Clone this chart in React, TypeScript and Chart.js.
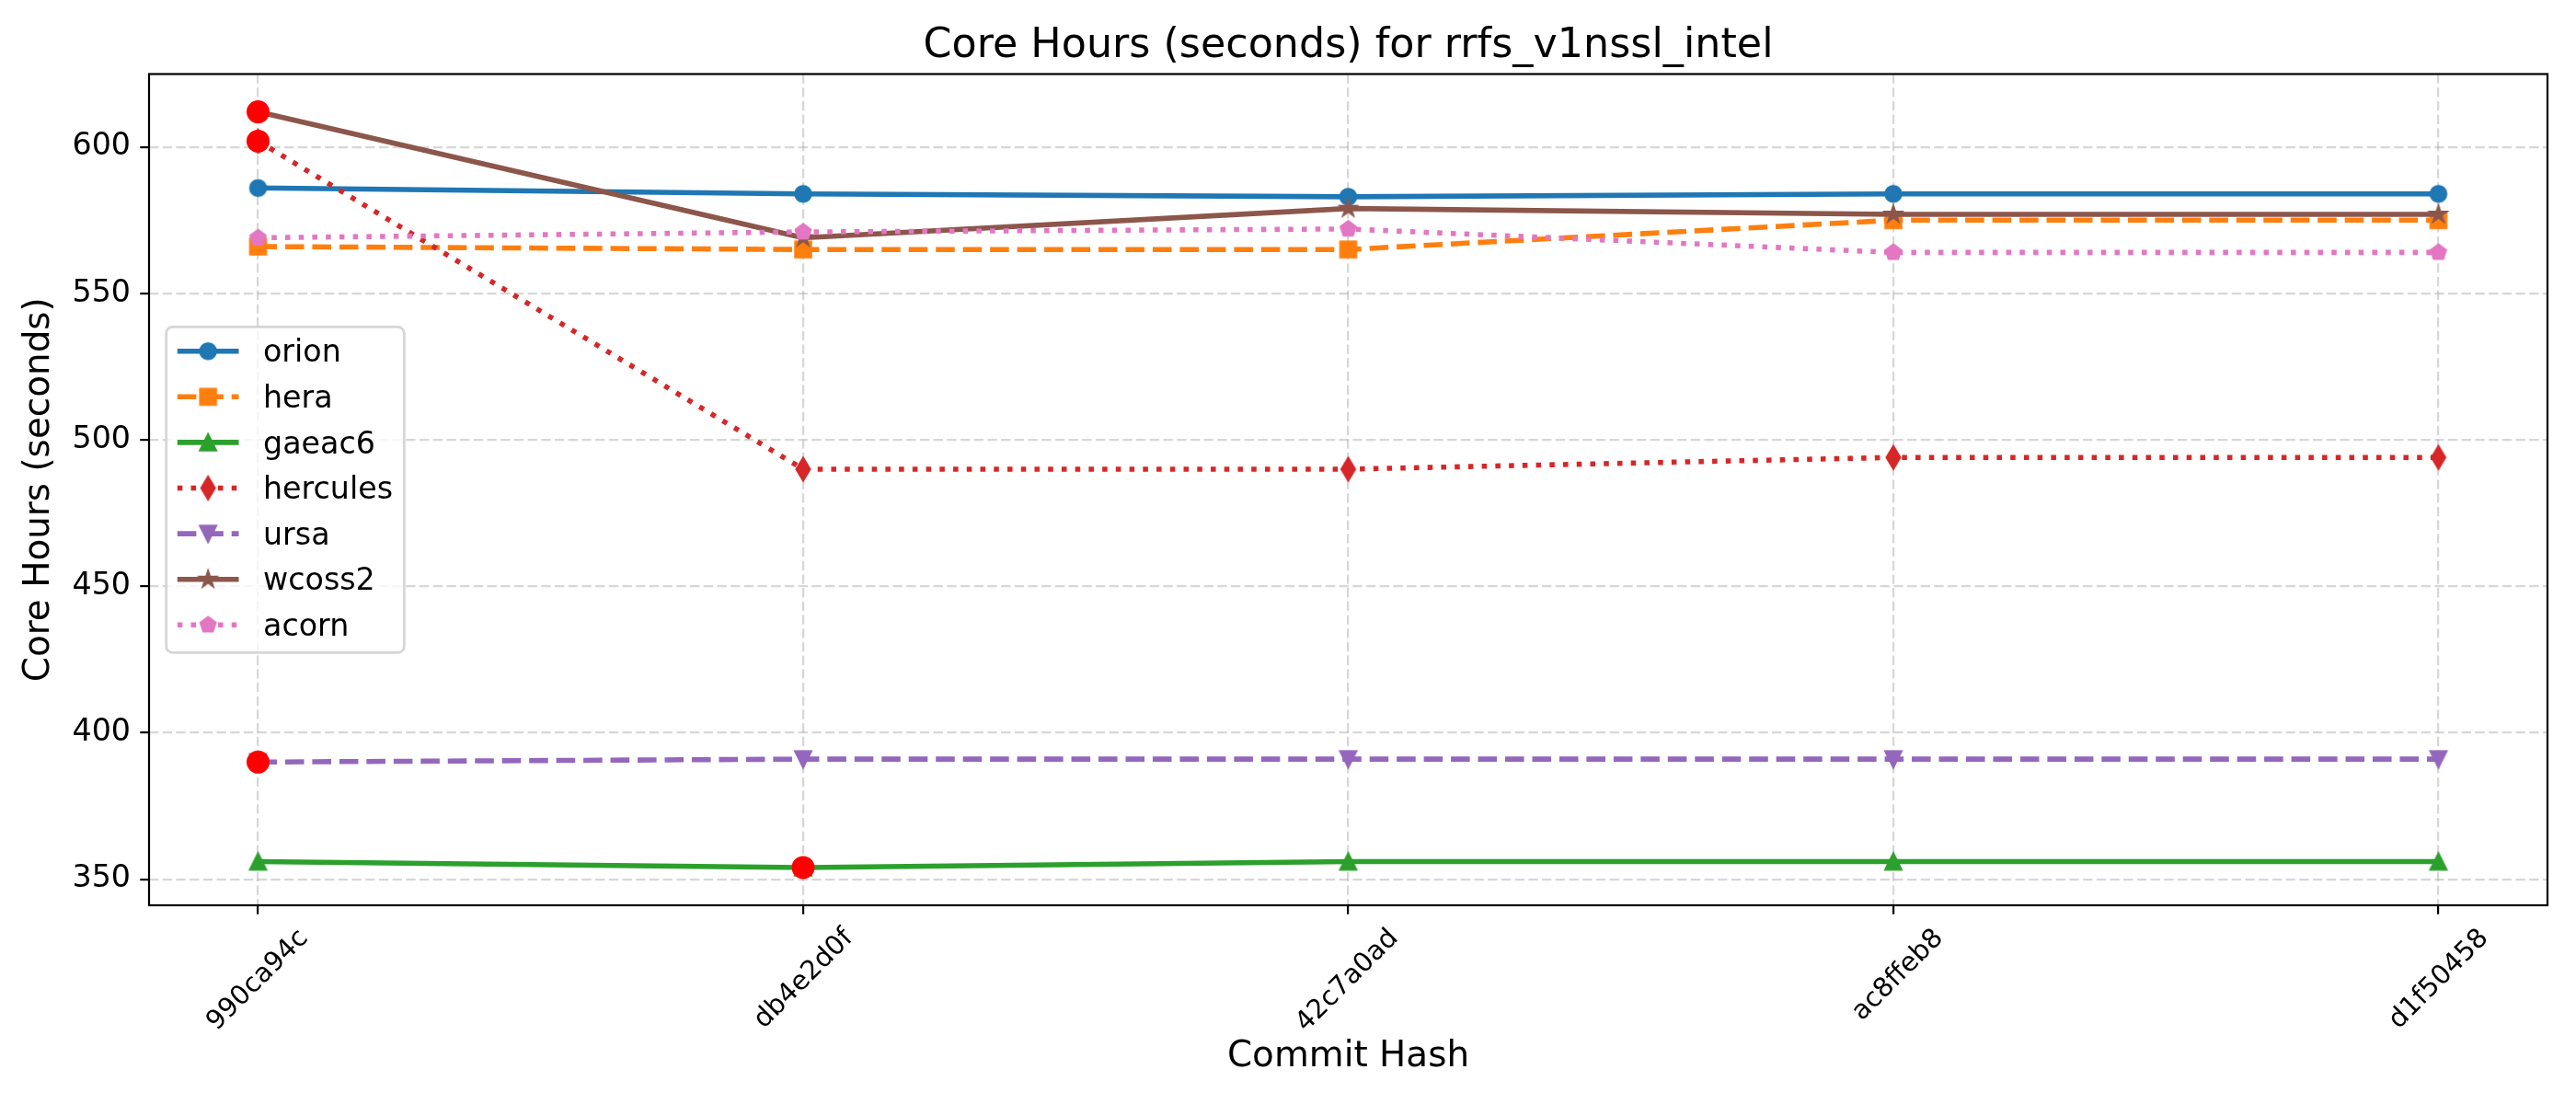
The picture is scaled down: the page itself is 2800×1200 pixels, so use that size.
import React, { useEffect, useRef } from 'react';
import { Chart, registerables } from 'chart.js';

Chart.register(...registerables);

// ---------------- data ----------------
const commits = ['990ca94c', 'db4e2d0f', '42c7a0ad', 'ac8ffeb8', 'd1f50458'];
const orion = [586, 584, 583, 584, 584];
const hera = [566, 565, 565, 575, 575];
const gaeac6 = [356, 354, 356, 356, 356];
const hercules = [602, 490, 490, 494, 494];
const ursa = [390, 391, 391, 391, 391];
const wcoss2 = [612, 569, 579, 577, 577];
const acorn = [569, 571, 572, 564, 564];
const yTicks = [350, 400, 450, 500, 550, 600];
// points flagged with a red dot: [series name, commit index]
const flagged: [string, number][] = [
  ['wcoss2', 0],
  ['hercules', 0],
  ['ursa', 0],
  ['gaeac6', 1],
];

const TITLE = 'Core Hours (seconds) for rrfs_v1nssl_intel';
const X_LABEL = 'Commit Hash';
const Y_LABEL = 'Core Hours (seconds)';

// ---------------- styles ----------------
const FONT = '"DejaVu Sans", sans-serif';
const LW = 5.56; // 2pt at 200dpi
const MS = 16.7; // markersize 6
const EW = 2.78; // marker edge width
const DASHED = [3.7 * LW, 1.6 * LW];
const DOTTED = [1 * LW, 1.65 * LW];

type Shape = 'circle' | 'square' | 'triangle' | 'thinDiamond' | 'triangleDown' | 'star' | 'pentagon';

const series: { name: string; values: number[]; color: string; dash: number[]; marker: Shape }[] = [
  { name: 'orion', values: orion, color: '#1f77b4', dash: [], marker: 'circle' },
  { name: 'hera', values: hera, color: '#ff7f0e', dash: DASHED, marker: 'square' },
  { name: 'gaeac6', values: gaeac6, color: '#2ca02c', dash: [], marker: 'triangle' },
  { name: 'hercules', values: hercules, color: '#d62728', dash: DOTTED, marker: 'thinDiamond' },
  { name: 'ursa', values: ursa, color: '#9467bd', dash: DASHED, marker: 'triangleDown' },
  { name: 'wcoss2', values: wcoss2, color: '#8c564b', dash: [], marker: 'star' },
  { name: 'acorn', values: acorn, color: '#e377c2', dash: DOTTED, marker: 'pentagon' },
];

function makeMarker(shape: Shape, color: string): HTMLCanvasElement {
  let s = Math.ceil(MS * 1.6 + EW * 2) + 4;
  if (s % 2) s += 1;
  const c = document.createElement('canvas');
  c.width = s;
  c.height = s;
  const g = c.getContext('2d')!;
  g.translate(s / 2, s / 2);
  const r = MS / 2;
  g.beginPath();
  if (shape === 'circle') {
    g.arc(0, 0, r, 0, Math.PI * 2);
  } else if (shape === 'square') {
    g.rect(-r, -r, 2 * r, 2 * r);
  } else if (shape === 'triangle') {
    g.moveTo(0, -r);
    g.lineTo(-r, r);
    g.lineTo(r, r);
    g.closePath();
  } else if (shape === 'triangleDown') {
    g.moveTo(0, r);
    g.lineTo(-r, -r);
    g.lineTo(r, -r);
    g.closePath();
  } else if (shape === 'thinDiamond') {
    const h = r * Math.SQRT2;
    const w = 0.6 * h;
    g.moveTo(0, -h);
    g.lineTo(w, 0);
    g.lineTo(0, h);
    g.lineTo(-w, 0);
    g.closePath();
  } else if (shape === 'pentagon') {
    for (let k = 0; k < 5; k++) {
      const a = -Math.PI / 2 + (k * 2 * Math.PI) / 5;
      const px = r * Math.cos(a);
      const py = r * Math.sin(a);
      if (k === 0) g.moveTo(px, py);
      else g.lineTo(px, py);
    }
    g.closePath();
  } else if (shape === 'star') {
    for (let k = 0; k < 10; k++) {
      const a = -Math.PI / 2 + (k * Math.PI) / 5;
      const rr = k % 2 === 0 ? r : r * 0.381966;
      const px = rr * Math.cos(a);
      const py = rr * Math.sin(a);
      if (k === 0) g.moveTo(px, py);
      else g.lineTo(px, py);
    }
    g.closePath();
  }
  g.fillStyle = color;
  g.fill();
  g.lineJoin = 'miter';
  g.lineWidth = EW;
  g.strokeStyle = color;
  g.stroke();
  return c;
}

// legend geometry (matplotlib "best" location, upper-left area)
const LEG = {
  x: 180.7,
  y: 355.4,
  w: 258.6,
  h: 353.9,
  radius: 6.7,
  lineX1: 192.8,
  lineX2: 259.5,
  textX: 286,
  firstRow: 381.7,
  rowGap: 49.6,
  baselineShift: 11.6,
  fontSize: 33.3,
};

export default function App() {
  const canvasRef = useRef<HTMLCanvasElement | null>(null);

  useEffect(() => {
    document.body.style.margin = '0';
    document.body.style.overflow = 'hidden';
    const canvas = canvasRef.current;
    if (!canvas) return;

    const markers = series.map((s) => makeMarker(s.marker, s.color));

    const all = series.flatMap((s) => s.values);
    const dMin = Math.min(...all);
    const dMax = Math.max(...all);
    const pad = (dMax - dMin) * 0.05;
    const xPad = (commits.length - 1) * 0.05;

    const datasets: any[] = series.map((s, i) => ({
      label: s.name,
      data: s.values.map((v, j) => ({ x: j, y: v })),
      borderColor: s.color,
      backgroundColor: s.color,
      borderWidth: LW,
      borderDash: s.dash,
      borderCapStyle: 'butt',
      borderJoinStyle: 'round',
      tension: 0,
      fill: false,
      pointStyle: markers[i],
      pointRadius: 10,
      pointHoverRadius: 10,
      order: 20 - i,
    }));

    datasets.push({
      label: 'flagged',
      data: flagged.map(([name, idx]) => {
        const s = series.find((q) => q.name === name)!;
        return { x: idx, y: s.values[idx] };
      }),
      showLine: false,
      pointStyle: 'circle',
      pointRadius: 11.1,
      pointHoverRadius: 11.1,
      pointBorderWidth: 2.78,
      pointBackgroundColor: '#ff0000',
      pointBorderColor: '#ff0000',
      borderColor: '#ff0000',
      backgroundColor: '#ff0000',
      order: 0,
    });

    const framePlugin = {
      id: 'frame',
      afterDatasetsDraw(chart: any) {
        const { ctx, chartArea } = chart;
        ctx.save();
        ctx.strokeStyle = '#000000';
        ctx.lineWidth = 2.2;
        ctx.setLineDash([]);
        ctx.strokeRect(chartArea.left, chartArea.top, chartArea.right - chartArea.left, chartArea.bottom - chartArea.top);
        ctx.restore();
      },
    };

    const legendPlugin = {
      id: 'mplLegend',
      afterDraw(chart: any) {
        const ctx = chart.ctx as CanvasRenderingContext2D;
        ctx.save();
        ctx.beginPath();
        (ctx as any).roundRect(LEG.x, LEG.y, LEG.w, LEG.h, LEG.radius);
        ctx.fillStyle = 'rgba(255,255,255,0.8)';
        ctx.fill();
        ctx.lineWidth = 2.78;
        ctx.strokeStyle = 'rgba(204,204,204,0.8)';
        ctx.stroke();
        series.forEach((s, i) => {
          const y = LEG.firstRow + i * LEG.rowGap;
          ctx.beginPath();
          ctx.setLineDash(s.dash);
          ctx.lineDashOffset = 0;
          ctx.lineCap = 'butt';
          ctx.lineWidth = LW;
          ctx.strokeStyle = s.color;
          ctx.moveTo(LEG.lineX1, y);
          ctx.lineTo(LEG.lineX2, y);
          ctx.stroke();
          ctx.setLineDash([]);
          const m = markers[i];
          const cx = (LEG.lineX1 + LEG.lineX2) / 2;
          ctx.drawImage(m, cx - m.width / 2, y - m.height / 2);
          ctx.fillStyle = '#000000';
          ctx.font = `${LEG.fontSize}px ${FONT}`;
          ctx.textAlign = 'left';
          ctx.textBaseline = 'alphabetic';
          ctx.fillText(s.name, LEG.textX, y + LEG.baselineShift);
        });
        ctx.restore();
      },
    };

    const gridColor = 'rgba(176,176,176,0.5)';

    const chart = new Chart(canvas, {
      type: 'line',
      data: { datasets },
      plugins: [framePlugin, legendPlugin],
      options: {
        responsive: false,
        devicePixelRatio: 1,
        animation: false,
        events: [],
        layout: { padding: { left: 0, right: 31, top: 0, bottom: 0 } },
        plugins: {
          legend: { display: false },
          tooltip: { enabled: false },
          title: {
            display: true,
            text: TITLE,
            fullSize: false,
            color: '#000000',
            font: { family: FONT, size: 44.4, weight: 'normal', lineHeight: 1.2 },
            padding: { top: 23.4, bottom: 3.8 },
          },
        },
        scales: {
          x: {
            type: 'linear',
            min: -xPad,
            max: commits.length - 1 + xPad,
            afterBuildTicks: (scale: any) => {
              scale.ticks = commits.map((_, i) => ({ value: i }));
            },
            afterFit: (scale: any) => {
              scale.height = 216;
              scale.paddingLeft = 0;
              scale.paddingRight = 0;
            },
            ticks: {
              autoSkip: false,
              maxRotation: 45,
              minRotation: 45,
              labelOffset: 50,
              padding: 9.3,
              color: '#000000',
              font: { family: FONT, size: 29, lineHeight: 1.2 },
              callback: (value: any) => commits[Math.round(Number(value))] ?? '',
            },
            grid: {
              color: gridColor,
              lineWidth: 2.2,
              tickColor: '#000000',
              tickWidth: 2.2,
              tickLength: 9.7,
              tickBorderDash: [],
            },
            border: { display: false, dash: [10.3, 4.4] },
            title: {
              display: true,
              text: X_LABEL,
              color: '#000000',
              font: { family: FONT, size: 38.9, lineHeight: 1.2 },
              padding: { top: 0, bottom: 27.9 },
            },
          },
          y: {
            type: 'linear',
            min: dMin - pad,
            max: dMax + pad,
            afterBuildTicks: (scale: any) => {
              scale.ticks = yTicks.map((v) => ({ value: v }));
            },
            afterFit: (scale: any) => {
              scale.width = 162;
              scale.paddingTop = 0;
              scale.paddingBottom = 0;
            },
            ticks: {
              padding: 10.3,
              color: '#000000',
              font: { family: FONT, size: 33.3, lineHeight: 1.2 },
              callback: (value: any) => String(value),
            },
            grid: {
              color: gridColor,
              lineWidth: 2.2,
              tickColor: '#000000',
              tickWidth: 2.2,
              tickLength: 9.7,
              tickBorderDash: [],
            },
            border: { display: false, dash: [10.3, 4.4] },
            title: {
              display: true,
              text: Y_LABEL,
              color: '#000000',
              font: { family: FONT, size: 38.9, lineHeight: 1.2 },
              padding: { top: 19.7, bottom: 0 },
            },
          },
        },
      } as any,
    });

    return () => {
      chart.destroy();
    };
  }, []);

  return (
    <div style={{ width: 2800, height: 1200, position: 'relative', background: '#ffffff' }}>
      <canvas ref={canvasRef} width={2800} height={1200} style={{ display: 'block', width: 2800, height: 1200 }} />
    </div>
  );
}
